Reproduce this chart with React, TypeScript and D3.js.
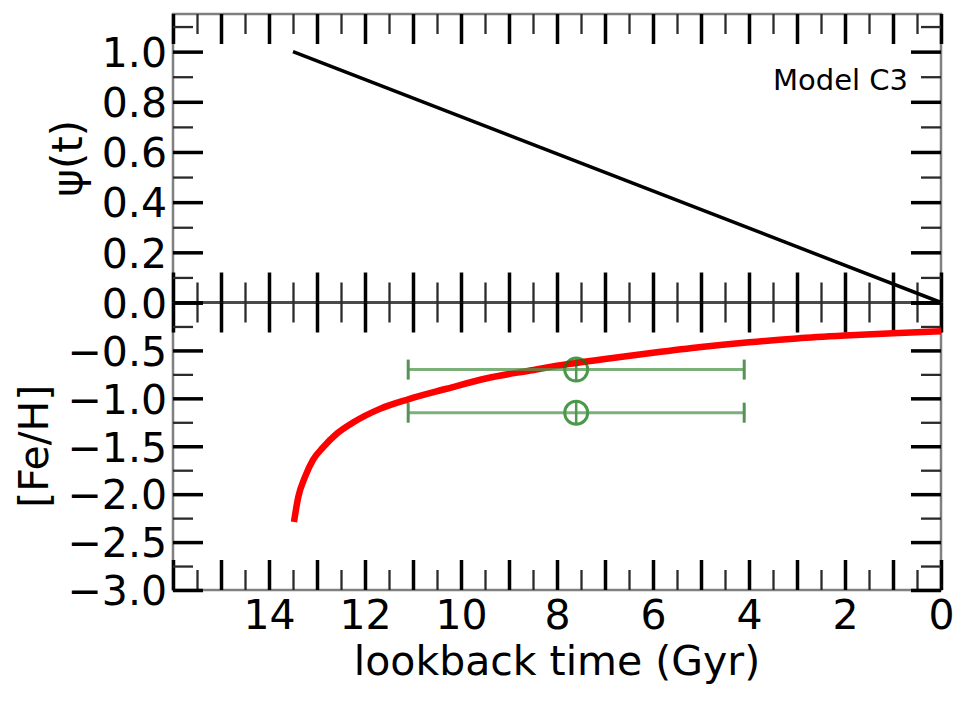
import React, { useEffect, useRef } from "react";
import * as d3 from "d3";

// star formation history psi(t), normalised
const psiTime = [13.5, 0];
const psiValue = [1.0, 0.0];

// model [Fe/H] vs lookback time
const fehTime = [13.48, 13.39, 13.25, 13.08, 12.87, 12.59, 12.24, 11.69, 11.1, 10.3, 9.46, 8.56, 7.73, 7, 6, 5, 4, 3, 2, 1, 0];
const fehValue = [-2.29, -2.03, -1.82, -1.64, -1.51, -1.37, -1.25, -1.11, -1.01, -0.9, -0.79, -0.71, -0.64, -0.59, -0.525, -0.465, -0.415, -0.375, -0.345, -0.32, -0.3];

// observed points with error bars
const obsTime = [7.6, 7.6];
const obsFeH = [-0.7, -1.15];
const obsTimeMin = [4.1, 4.1];
const obsTimeMax = [11.1, 11.1];
const obsFeHErr = [0.12, 0.12];

const xMajorTicks = d3.range(0, 17, 1);
const xMinorTicks = d3.range(0.5, 16, 1);
const xLabelTicks = [14, 12, 10, 8, 6, 4, 2, 0];
const psiMajorTicks = [0, 0.2, 0.4, 0.6, 0.8, 1.0];
const psiMinorTicks = [0.1, 0.3, 0.5, 0.7, 0.9, 1.1];
const fehMajorTicks = [-3, -2.5, -2, -1.5, -1, -0.5, 0];
const fehMinorTicks = [-2.75, -2.25, -1.75, -1.25, -0.75, -0.25];
const fehLabelTicks = [-3, -2.5, -2, -1.5, -1, -0.5];

const FONT = "DejaVu Sans, sans-serif";

const App: React.FC = () => {
  const svgRef = useRef<SVGSVGElement | null>(null);

  useEffect(() => {
    const svg = d3.select(svgRef.current);
    svg.selectAll("*").remove();

    const width = 969;
    const height = 703;
    const left = 173;
    const right = 941;
    const top = 14;
    const mid = 302.5;
    const bottom = 590;

    const x = d3.scaleLinear().domain([16, 0]).range([left, right]);
    const yTop = d3.scaleLinear().domain([0, 1.15]).range([mid, top]);
    const yBot = d3.scaleLinear().domain([-3, 0]).range([bottom, mid]);

    svg.attr("width", width).attr("height", height);
    svg.append("rect").attr("width", width).attr("height", height).attr("fill", "white");

    // tick helper (no labels)
    const ticks = (
      axis: d3.Axis<d3.NumberValue>,
      values: number[],
      size: number,
      tx: number,
      ty: number,
      major: boolean
    ) => {
      const g = svg.append("g").attr("transform", `translate(${tx},${ty})`);
      g.call(axis.tickValues(values).tickSize(-size).tickFormat(() => ""));
      g.select(".domain").remove();
      g.selectAll("text").remove();
      g.selectAll(".tick line")
        .attr("stroke", major ? "#000" : "#2a2a2a")
        .attr("stroke-width", major ? 3.5 : 2.3);
    };

    // spines
    const spines = svg.append("g").attr("fill", "none");
    spines.append("rect")
      .attr("x", left).attr("y", top)
      .attr("width", right - left).attr("height", bottom - top)
      .attr("stroke", "#808080").attr("stroke-width", 2.5);
    spines.append("line")
      .attr("x1", left).attr("x2", right).attr("y1", mid).attr("y2", mid)
      .attr("stroke", "#4a4a4a").attr("stroke-width", 3);

    // x ticks: top of top panel, both sides of junction, bottom of bottom panel
    ticks(d3.axisTop(x), xMajorTicks, 30, 0, top, true);
    ticks(d3.axisTop(x), xMinorTicks, 20, 0, top, false);
    ticks(d3.axisBottom(x), xMajorTicks, 30, 0, mid, true);
    ticks(d3.axisBottom(x), xMinorTicks, 20, 0, mid, false);
    ticks(d3.axisTop(x), xMajorTicks, 30, 0, mid, true);
    ticks(d3.axisTop(x), xMinorTicks, 20, 0, mid, false);
    ticks(d3.axisBottom(x), xMajorTicks, 30, 0, bottom, true);
    ticks(d3.axisBottom(x), xMinorTicks, 20, 0, bottom, false);

    // y ticks, left and right
    ticks(d3.axisLeft(yTop), psiMajorTicks, 30, left, 0, true);
    ticks(d3.axisLeft(yTop), psiMinorTicks, 20, left, 0, false);
    ticks(d3.axisRight(yTop), psiMajorTicks, 30, right, 0, true);
    ticks(d3.axisRight(yTop), psiMinorTicks, 20, right, 0, false);
    ticks(d3.axisLeft(yBot), fehMajorTicks, 30, left, 0, true);
    ticks(d3.axisLeft(yBot), fehMinorTicks, 20, left, 0, false);
    ticks(d3.axisRight(yBot), fehMajorTicks, 30, right, 0, true);
    ticks(d3.axisRight(yBot), fehMinorTicks, 20, right, 0, false);

    // tick labels
    const styleLabels = (g: d3.Selection<SVGGElement, unknown, null, undefined>) => {
      g.select(".domain").remove();
      g.selectAll(".tick line").remove();
      g.attr("font-family", FONT).attr("font-size", 41);
      g.selectAll("text").attr("fill", "#000");
    };

    const xLab = svg.append("g").attr("transform", `translate(0,${bottom})`);
    xLab.call(
      d3.axisBottom(x).tickValues(xLabelTicks).tickSize(0).tickPadding(10).tickFormat(d3.format("d"))
    );
    styleLabels(xLab);

    const psiLab = svg.append("g").attr("transform", `translate(${left},0)`);
    psiLab.call(
      d3.axisLeft(yTop).tickValues(psiMajorTicks).tickSize(0).tickPadding(6).tickFormat(d3.format(".1f"))
    );
    styleLabels(psiLab);
    psiLab.selectAll("text").attr("dy", "0.36em");

    const fehLab = svg.append("g").attr("transform", `translate(${left},0)`);
    fehLab.call(
      d3.axisLeft(yBot).tickValues(fehLabelTicks).tickSize(0).tickPadding(6).tickFormat(d3.format(".1f"))
    );
    styleLabels(fehLab);
    fehLab.selectAll("text").attr("dy", "0.36em");

    // axis titles
    svg.append("text")
      .attr("x", (left + right) / 2).attr("y", 675)
      .attr("text-anchor", "middle")
      .attr("font-family", FONT).attr("font-size", 41)
      .text("lookback time (Gyr)");
    svg.append("text")
      .attr("transform", `translate(82,${(top + mid) / 2}) rotate(-90)`)
      .attr("text-anchor", "middle")
      .attr("font-family", FONT).attr("font-size", 42)
      .text("ψ(t)");
    svg.append("text")
      .attr("transform", `translate(48,${(mid + bottom) / 2}) rotate(-90)`)
      .attr("text-anchor", "middle")
      .attr("font-family", FONT).attr("font-size", 41)
      .text("[Fe/H]");

    // model label
    svg.append("text")
      .attr("x", 908).attr("y", 90)
      .attr("text-anchor", "end")
      .attr("font-family", FONT).attr("font-size", 29)
      .text("Model C3");

    // psi(t) line
    const psiLine = d3.line<number>()
      .x((d, i) => x(psiTime[i]))
      .y((d) => yTop(d));
    svg.append("path")
      .datum(psiValue)
      .attr("d", psiLine)
      .attr("fill", "none")
      .attr("stroke", "#000")
      .attr("stroke-width", 3.5);

    // [Fe/H] model curve
    const fehLine = d3.line<number>()
      .x((d, i) => x(fehTime[i]))
      .y((d) => yBot(d))
      .curve(d3.curveMonotoneX);
    svg.append("path")
      .datum(fehValue)
      .attr("d", fehLine)
      .attr("fill", "none")
      .attr("stroke", "#f00")
      .attr("stroke-width", 6.5);

    // observed points
    const obs = svg.append("g").attr("opacity", 0.75);
    obsFeH.forEach((v, i) => {
      const cy = yBot(v);
      obs.append("line")
        .attr("x1", x(obsTimeMax[i])).attr("x2", x(obsTimeMin[i]))
        .attr("y1", cy).attr("y2", cy)
        .attr("stroke", "#4f964f").attr("stroke-width", 3);
      [obsTimeMax[i], obsTimeMin[i]].forEach((t) => {
        obs.append("line")
          .attr("x1", x(t)).attr("x2", x(t))
          .attr("y1", cy - 10).attr("y2", cy + 10)
          .attr("stroke", "#1d6e1d").attr("stroke-width", 3);
      });
      obs.append("line")
        .attr("x1", x(obsTime[i])).attr("x2", x(obsTime[i]))
        .attr("y1", yBot(v + obsFeHErr[i])).attr("y2", yBot(v - obsFeHErr[i]))
        .attr("stroke", "#137a13").attr("stroke-width", 2.5);
      obs.append("circle")
        .attr("cx", x(obsTime[i])).attr("cy", cy).attr("r", 11.5)
        .attr("fill", "none")
        .attr("stroke", "#0e780e").attr("stroke-width", 3);
    });
  }, []);

  return (
    <svg
      ref={svgRef}
      style={{ position: "absolute", left: 0, top: 0, display: "block" }}
    ></svg>
  );
};

export default App;
